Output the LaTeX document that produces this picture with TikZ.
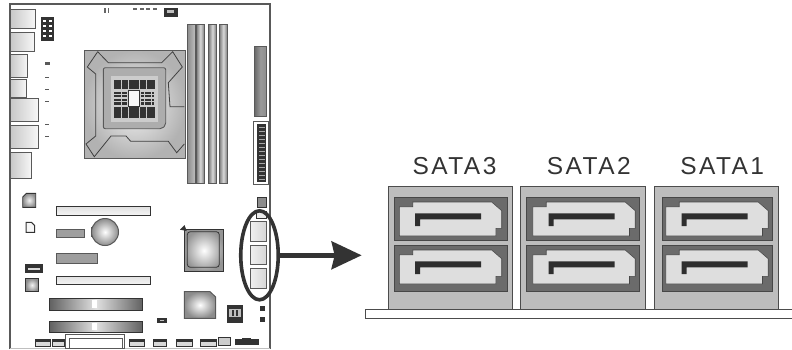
\documentclass[tikz,border=0pt]{standalone}
\usepackage{fontspec}
\setsansfont{Liberation Sans}
\newfontfamily\satafont[LetterSpace=10]{Liberation Sans}
\definecolor{boardline}{gray}{.35}
\definecolor{partdark}{gray}{.2}
\tikzset{
  ioport/.style={draw=boardline, line width=.9pt, left color=black!22, right color=black!3},
  lightslot/.style={draw=partdark, line width=.9pt, top color=black!12, bottom color=black!4},
  grayslot/.style={draw=boardline, line width=.9pt, fill=black!38},
  expressslot/.style={draw=partdark, line width=.7pt, left color=black!62, right color=black!62, middle color=black!12},
  dimmslot/.style={draw=boardline, line width=.7pt, left color=black!55, right color=black!55, middle color=black!15},
  darkpart/.style={fill=partdark},
  smallchip/.style={draw=partdark, line width=.9pt, inner color=black!5, outer color=black!45},
  satablock/.style={draw=black!70, line width=.8pt, fill=black!26},
  sataport/.style={draw=black!72, line width=.8pt, fill=black!58},
  satashape/.style={draw=black!72, line width=.6pt, fill=black!13},
  satalabel/.style={font=\satafont\fontsize{24.5}{26}\selectfont, text=black!80, inner sep=0pt},
  sataring/.style={draw=partdark, line width=3.6pt, ellipse, minimum width=37.5pt, minimum height=89pt, inner sep=0pt},
  pinrow/.style={draw=partdark, line width=2.8pt, dash pattern=on 3.2pt off .4pt},
}
\usetikzlibrary{shapes.geometric}
\usetikzlibrary{arrows.meta}
\begin{document}
\begin{tikzpicture}[x=1pt,y=-1pt]
\useasboundingbox (0,0) rectangle (792,349);

% board
\draw[boardline, line width=1.1pt] (10,349) -- (10,4) -- (270,4) -- (270,349);
\draw[black!25, line width=.5pt] (10,348) -- (270,348);

% rear ports
\foreach \xa/\ya/\yb in {35.5/9/28, 34.3/32/51, 27.7/54.5/77.5, 26/79/97.5, 38.5/98.5/121.5, 38.5/125.5/148.5, 31.5/152/178}
\draw[ioport] (10,\ya) rectangle (\xa,\yb);

\fill[darkpart] (40.7,16.7) rectangle (54.3,40.7);
\foreach \y in {19.5,24.5,29.5,34.5}
\foreach \x in {43,49}
\fill[white] (\x,\y) rectangle ++(2.6,2.8);

\fill[black!65] (44.5,62) rectangle (49.5,64.5);
\foreach \y in {77.5,89.3,101,124,136}
\fill[black!65] (45,\y-.5) rectangle (49,\y+.5);

\fill[black!60] (103.5,8) rectangle (105.5,12.5);
\fill[black!60] (108,8) rectangle (109,12.5);
\foreach \x in {133,139.5,146,153}
\fill[black!60] (\x,7.8) rectangle ++(4,1.8);
\fill[darkpart] (164,7.5) rectangle (177.5,16.5);
\fill[black!25] (166.5,10) rectangle (174,12.5);

% cpu socket
\draw[boardline, line width=.9pt, shading=radial, inner color=black!4, outer color=black!30] (84.3,50.7) rectangle (185,158.7);
\draw[black!75, line width=.8pt] (97.7,51.7) -- (108.3,62.7) -- (161.7,62.7) -- (172.7,51.7) -- (182.3,67) -- (168.3,82.7) -- (170,106.7) -- (184.3,106.7);
\draw[black!75, line width=.8pt] (97.7,51.7) -- (87.3,67) -- (95.7,74) -- (95.7,136) -- (86,144) -- (94.3,156.7) -- (111,136) -- (126,136) -- (130.7,141.3) -- (168.3,141.3) -- (176.7,152.7) -- (184.3,144);
\draw[boardline, line width=.9pt, fill=black!32, rounded corners=2pt] (103.3,67.7) -- (165.7,67.7) -- (165.7,125) -- (162,128.7) -- (103.3,128.7) -- cycle;
\fill[black!20] (111,76) rectangle (158,122);
\foreach \y in {81.5,84.5,87.5,108.5,111.5,114.5,117}
\draw[pinrow] (114.3,\y) -- (154,\y);
\foreach \y in {93,96,100,103.5}
{\draw[pinrow] (114.3,\y) -- (127,\y);
\draw[pinrow] (141,\y) -- (154,\y);}
\draw[partdark, line width=.8pt, fill=black!3] (128,90) rectangle (139.3,106.7);

% memory slots
\draw[dimmslot, middle color=white, left color=black!45, right color=black!25] (187.3,24) rectangle (195.3,183);
\foreach \xa/\xb in {196/204.7, 208.3/216.7, 219/227.7}
\draw[dimmslot] (\xa,24) rectangle (\xb,183);

% right edge
\draw[boardline, line width=.9pt, left color=black!60, right color=black!45, middle color=black!40] (254,46.7) rectangle (266.7,116.7);
\draw[boardline, line width=.8pt, fill=white] (253.3,121) rectangle (268.3,184.3);
\fill[darkpart] (257,124) rectangle (266,182);
\foreach \y in {127,131,...,179}
\fill[black!35] (258.5,\y) rectangle (264.5,\y+1);
\draw[partdark, line width=.9pt, fill=black!45] (257.3,197.7) rectangle (266.7,207);
\draw[partdark, line width=1pt, fill=black!8] (256.7,211) rectangle (266.7,218.3);
\foreach \ya/\yb in {221.7/241.7, 245/264.3, 268.3/288.3}
\draw[ioport, left color=black!6, right color=black!16] (250,\ya) rectangle (266.7,\yb);
\fill[darkpart] (260,306) rectangle (265.3,311);
\fill[darkpart] (260,317) rectangle (265.3,322);

% left small chips
\draw[smallchip] (22.7,197) -- (26.5,193.3) -- (35.7,193.3) -- (35.7,207.3) -- (22.7,207.3) -- cycle;
\draw[partdark, line width=1pt, fill=black!3] (26,222.3) -- (31.5,222.3) -- (34.7,225.5) -- (34.7,232.3) -- (26,232.3) -- cycle;
\fill[darkpart] (25.3,263.7) rectangle (42.7,272.7);
\fill[black!15] (28,267.5) rectangle (40,270);
\draw[smallchip] (25.7,278.3) rectangle (38.3,291.7);

% expansion slots
\foreach \xb/\ya/\yb in {150.7/206.7/215.3, 150.7/276/284.7}
\draw[lightslot] (56,\ya) rectangle (\xb,\yb);
\foreach \xb/\ya/\yb in {84/229/237.7, 97.3/253.3/263.3}
\draw[grayslot] (56,\ya) rectangle (\xb,\yb);
\foreach \ya/\yb in {298.3/310.3, 321/332.3}
{\draw[expressslot] (49.3,\ya) rectangle (142.7,\yb);
\fill[white] (92,\ya+1.5) rectangle (97,\yb-2);}

% battery
\fill[boardline] (91,227) rectangle (94,237);
\draw[boardline, line width=1pt, inner color=white, outer color=black!45] (105,232) circle (13.5);

% chipsets
\draw[smallchip, line width=1.2pt, inner color=white, outer color=black!42] (184.3,229.3) rectangle (223.7,271.7);
\draw[partdark, line width=.8pt, rounded corners=3pt] (187.3,231.7) rectangle (219.3,267.3);
\fill[partdark] (180,229.7) -- (184.5,225) -- (186.7,231) -- cycle;
\draw[boardline, line width=1pt, inner color=white, outer color=black!45] (184.3,291.7) -- (210,291.7) -- (215.7,297) -- (215.7,318.3) -- (184.3,318.3) -- cycle;
\fill[darkpart] (226.7,305) rectangle (243.3,323.3);
\fill[black!25] (229,309) rectangle (241,317);
\foreach \x in {232,236}
\fill[darkpart] (\x,310) rectangle ++(2,6);
\fill[darkpart] (157.3,318.3) rectangle (166.7,323.3);
\fill[black!25] (160,320) rectangle (164,321);

% bottom row
\foreach \xa/\xb in {35/50.7, 52.3/64.3, 129.3/144, 153.3/166.7, 176/192, 200/216}
{\draw[partdark, line width=.9pt, fill=black!15] (\xa,339.5) rectangle (\xb,346);
\fill[darkpart] (\xa,339.5) rectangle (\xb,342);}
\draw[boardline, line width=.7pt, fill=white] (65.7,334.3) rectangle (124,348.3);
\draw[boardline, line width=.9pt] (69,348.3) -- (69,338.3) -- (122.7,338.3) -- (122.7,348.3);
\draw[partdark, line width=1pt, fill=black!20] (218.7,337.7) rectangle (230.7,345);
\fill[darkpart] (234.7,339) rectangle (259,345);
\fill[darkpart] (242,337.7) rectangle (251,340);

% sata connectors on the right
\draw[black!70, line width=.8pt, fill=white] (792,309.3) -- (365.7,309.3) -- (365.7,318) -- (792,318);
\foreach \nm/\xa/\xb/\xc/\xd/\xs/\lx/\lbl in {three/388.3/512.7/394/507.7/0/454.5/SATA3, two/520.3/645/526/639.7/133.5/588.8/SATA2, one/654/778.3/662/772/266.5/722.2/SATA1}
{\node[satablock, inner sep=0pt, minimum width=\xb pt-\xa pt, minimum height=122.6pt] (block\nm) at ({(\xa+\xb)/2},248) {};
\node[satalabel] (label\nm) at (\lx,166) {\lbl};
\foreach \yo/\yh in {0/43, 48/45.7}
{\draw[sataport] (\xc,197.3+\yo) rectangle (\xd,197.3+\yo+\yh);
\begin{scope}[shift={(\xs,\yo)}]
\draw[satashape] (399.3,206.7) -- (412.7,206.7) -- (412.7,202) -- (491.7,202) -- (501.7,210.7) -- (501.7,228.3) -- (496,228.3) -- (496,236) -- (399.3,236) -- cycle;
\fill[black!82] (415,213.3) -- (481,213.3) -- (481,219.3) -- (420,219.3) -- (420,226) -- (415,226) -- cycle;
\end{scope}}}

% marker and arrow
\node[sataring] (satagroup) at (259.5,255.3) {};
\coordinate (arrowend) at (361.7,255.3);
\draw[partdark, line width=5.3pt, -{Stealth[length=30pt, width=27.5pt, inset=3pt]}] (satagroup.east) -- (arrowend);
\end{tikzpicture}
\end{document}
